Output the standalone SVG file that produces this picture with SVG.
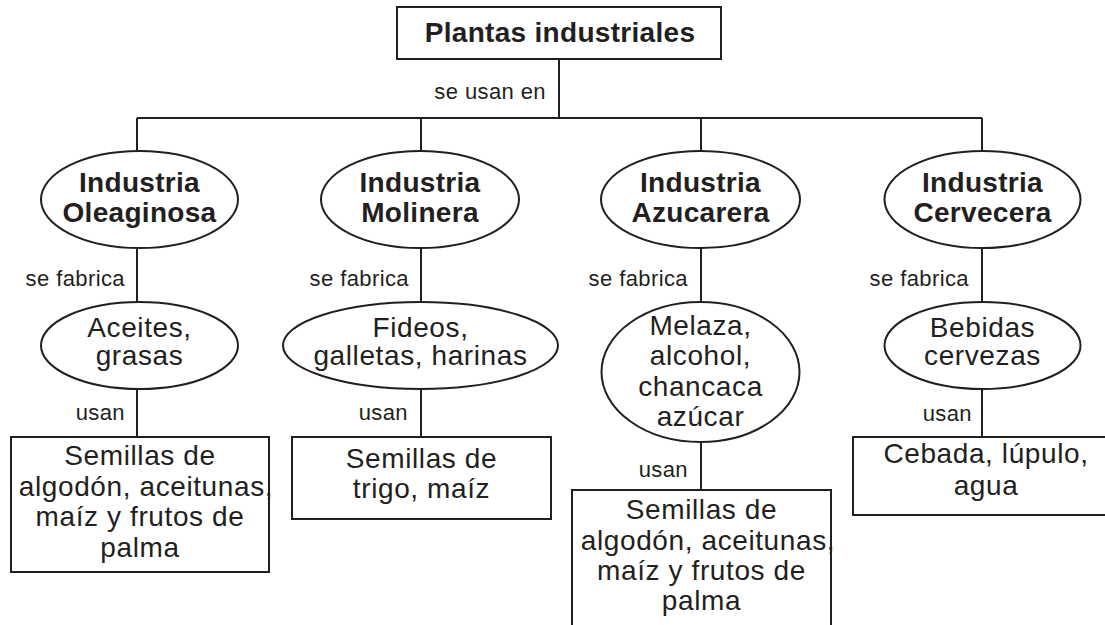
<svg xmlns="http://www.w3.org/2000/svg" width="1105" height="625" viewBox="0 0 1105 625">
<style>
.shape{fill:#fff;stroke:#231f20;stroke-width:2}
.con{stroke:#231f20;stroke-width:2;fill:none}
text{font-family:"Liberation Sans",Arial,Helvetica,sans-serif;fill:#231f20}
.b{font-size:28px;font-weight:bold;text-anchor:middle;letter-spacing:0.3px}
.t{font-size:28px;text-anchor:middle;letter-spacing:0.6px}
.l{font-size:22px;text-anchor:end;letter-spacing:0.4px}
</style>
<rect width="1105" height="625" fill="#fff"/>
<g id="connectors">
<line class="con" x1="559" y1="59" x2="559" y2="118"/>
<line class="con" x1="137" y1="118" x2="982" y2="118"/>
<line class="con" x1="137" y1="118" x2="137" y2="151"/>
<line class="con" x1="421" y1="118" x2="421" y2="151"/>
<line class="con" x1="701" y1="118" x2="701" y2="151"/>
<line class="con" x1="982" y1="118" x2="982" y2="151"/>
<line class="con" x1="137" y1="248" x2="137" y2="302"/>
<line class="con" x1="421" y1="248" x2="421" y2="302"/>
<line class="con" x1="701" y1="248" x2="701" y2="302"/>
<line class="con" x1="982" y1="248" x2="982" y2="302"/>
<line class="con" x1="137" y1="389" x2="137" y2="437"/>
<line class="con" x1="421" y1="389" x2="421" y2="437"/>
<line class="con" x1="701" y1="442" x2="701" y2="490"/>
<line class="con" x1="982" y1="389" x2="982" y2="437"/>
<text class="l" x="546" y="99">se usan en</text>
<text class="l" x="125" y="286">se fabrica</text>
<text class="l" x="409" y="286">se fabrica</text>
<text class="l" x="688" y="286">se fabrica</text>
<text class="l" x="969" y="286">se fabrica</text>
<text class="l" x="125" y="420">usan</text>
<text class="l" x="408" y="420">usan</text>
<text class="l" x="688" y="477">usan</text>
<text class="l" x="972" y="421">usan</text>
</g>
<g id="plantas">
<rect class="shape" x="397" y="7" width="324" height="52"/>
<text class="b" x="560" y="42">Plantas industriales</text>
</g>
<g id="oleaginosa">
<ellipse class="shape" cx="139.5" cy="199.5" rx="98.5" ry="48.5"/>
<text class="b" x="139.5" y="192">Industria</text>
<text class="b" x="139.5" y="222">Oleaginosa</text>
</g>
<g id="molinera">
<ellipse class="shape" cx="420" cy="199.5" rx="99" ry="48.5"/>
<text class="b" x="420" y="192">Industria</text>
<text class="b" x="420" y="222">Molinera</text>
</g>
<g id="azucarera">
<ellipse class="shape" cx="700.5" cy="199.5" rx="99.5" ry="48.5"/>
<text class="b" x="700.5" y="192">Industria</text>
<text class="b" x="700.5" y="222">Azucarera</text>
</g>
<g id="cervecera">
<ellipse class="shape" cx="982.5" cy="199.5" rx="98" ry="48.5"/>
<text class="b" x="982.5" y="192">Industria</text>
<text class="b" x="982.5" y="222">Cervecera</text>
</g>
<g id="aceites">
<ellipse class="shape" cx="139.5" cy="345.5" rx="98.5" ry="43.5"/>
<text class="t" x="139.5" y="337">Aceites,</text>
<text class="t" x="139.5" y="365">grasas</text>
</g>
<g id="fideos">
<ellipse class="shape" cx="420.5" cy="345.5" rx="137.5" ry="43.5"/>
<text class="t" x="420.5" y="337">Fideos,</text>
<text class="t" x="420.5" y="365">galletas, harinas</text>
</g>
<g id="melaza">
<ellipse class="shape" cx="700.5" cy="372" rx="99" ry="70"/>
<text class="t" x="700.5" y="335">Melaza,</text>
<text class="t" x="700.5" y="365">alcohol,</text>
<text class="t" x="700.5" y="396">chancaca</text>
<text class="t" x="700.5" y="426">azúcar</text>
</g>
<g id="bebidas">
<ellipse class="shape" cx="982.5" cy="345.5" rx="98" ry="43.5"/>
<text class="t" x="982.5" y="337">Bebidas</text>
<text class="t" x="982.5" y="365">cervezas</text>
</g>
<g id="semillas-oleaginosa">
<rect class="shape" x="11" y="437" width="258" height="135"/>
<text class="t" x="140" y="465">Semillas de</text>
<text class="t" x="146" y="496">algodón, aceitunas,</text>
<text class="t" x="140" y="526">maíz y frutos de</text>
<text class="t" x="140" y="557">palma</text>
</g>
<g id="semillas-trigo">
<rect class="shape" x="292" y="437" width="259" height="82"/>
<text class="t" x="421.5" y="468">Semillas de</text>
<text class="t" x="421.5" y="498">trigo, maíz</text>
</g>
<g id="semillas-azucarera">
<rect class="shape" x="572" y="490" width="259" height="160"/>
<text class="t" x="701.5" y="519">Semillas de</text>
<text class="t" x="708" y="550">algodón, aceitunas,</text>
<text class="t" x="701.5" y="580">maíz y frutos de</text>
<text class="t" x="701.5" y="610">palma</text>
</g>
<g id="cebada">
<rect class="shape" x="853" y="437" width="262" height="78"/>
<text class="t" x="986" y="463">Cebada, lúpulo,</text>
<text class="t" x="986" y="495">agua</text>
</g>
</svg>
